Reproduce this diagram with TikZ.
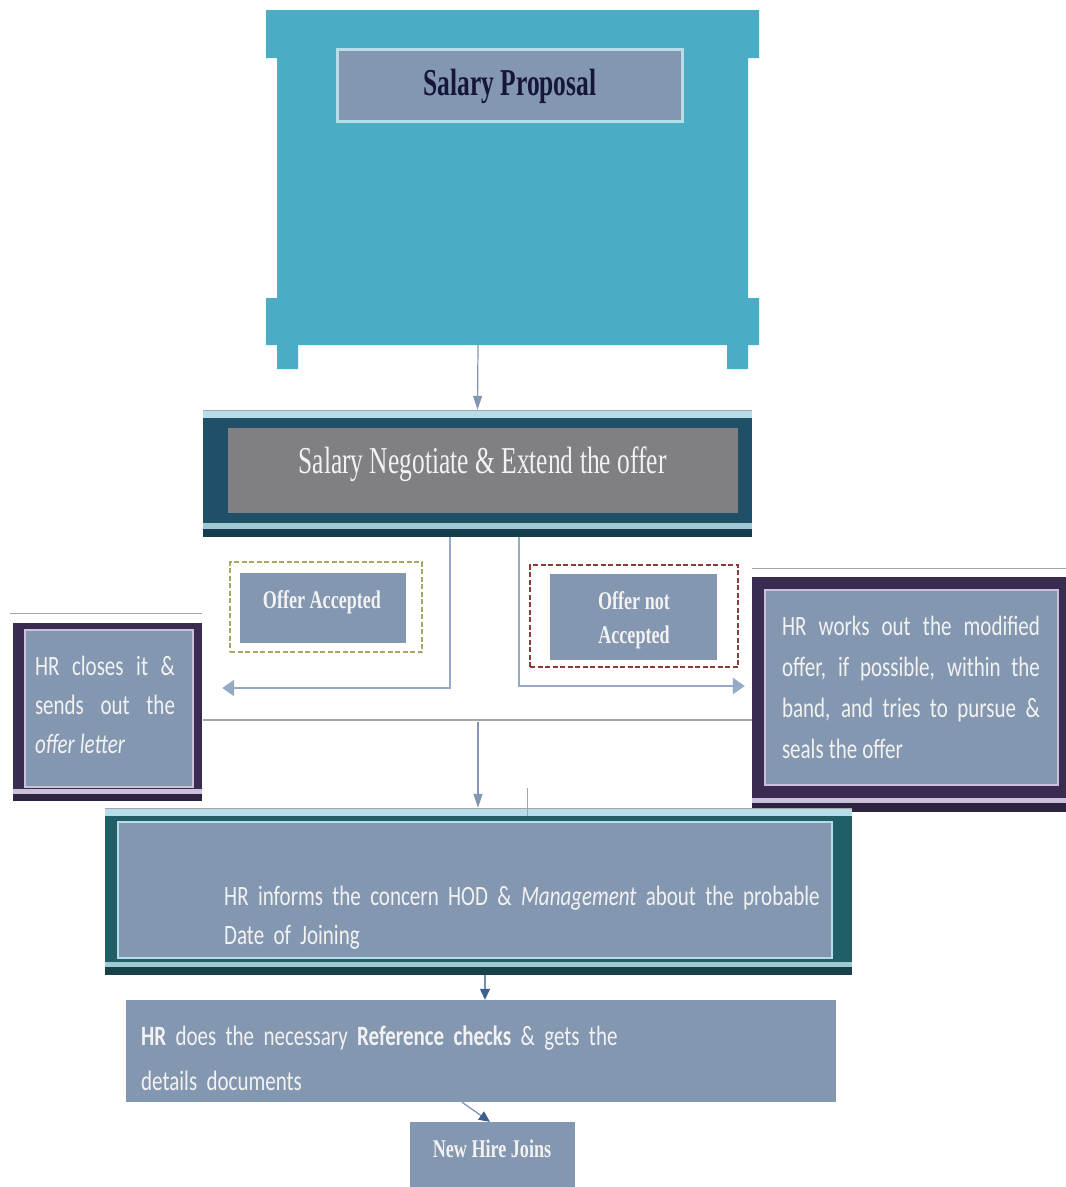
\documentclass[tikz,border=0pt]{standalone}
\usepackage{fontspec}
\usetikzlibrary{arrows.meta}
\newfontfamily\capfont[FakeStretch=0.67]{Liberation Serif}
\newfontfamily\tagfont[FakeStretch=0.71]{Liberation Serif}
\newfontfamily\bodyfont[FakeStretch=0.75]{Carlito}
% body copy: condensed face with tighter word spaces
\newcommand{\bodyset}[2]{\bodyfont\fontsize{#1}{#2}\selectfont\spaceskip=5pt plus 4pt minus 1pt\relax}

\definecolor{aqua}{HTML}{4BACC6}
\definecolor{slate}{HTML}{8497B0}
\definecolor{icecyan}{HTML}{B7DEE8}
\definecolor{deepteal}{HTML}{1F5068}
\definecolor{deepteal2}{HTML}{215E68}
\definecolor{midgrey}{HTML}{7F7F84}
\definecolor{plum}{HTML}{3A2C50}
\definecolor{lavender}{HTML}{CCC1DA}
\definecolor{olive}{HTML}{A8A662}
\definecolor{brick}{HTML}{8B3A3A}
\definecolor{linkblue}{HTML}{95AAC4}
\definecolor{linkgrey}{HTML}{8497B0}
\definecolor{navyarrow}{HTML}{3D5E90}
\definecolor{rulegrey}{HTML}{A6A6A6}
\definecolor{titleink}{HTML}{16163A}
\definecolor{paleink}{HTML}{F2F2F2}

\tikzset{
  panel/.style={fill=slate, inner sep=0pt},
  framebox/.style={inner sep=0pt},
  txt/.style={inner sep=0pt, text=paleink},
  capstyle/.style={txt, text=titleink, font=\capfont\bfseries\fontsize{38}{40}\selectfont},
  negostyle/.style={txt, font=\capfont\fontsize{38}{40}\selectfont},
  tagstyle/.style={txt, font=\tagfont\bfseries\fontsize{25.5}{34}\selectfont},
  bodystyle/.style={txt, font=\bodyset{28}{39}},
  dashbox/.style={inner sep=0pt, line width=2.2pt, dash pattern=on 5pt off 2.5pt},
  linkthin/.style={draw=linkgrey, line width=1.2pt, -{Triangle[length=14pt,width=9pt]}},
  sidelink/.style={draw=linkblue, line width=2.5pt, -{Triangle[length=12pt,width=16pt]}},
  navylink/.style={draw=navyarrow!70!white, line width=1.2pt, -{Triangle[length=11pt,width=10pt,color=navyarrow]}},
  rule/.style={draw=rulegrey, line width=1.5pt}
}

\begin{document}
\begin{tikzpicture}[x=1pt,y=-1pt]
\useasboundingbox[fill=white] (0,0) rectangle (1066,1187);

% ---- Salary proposal: the teal bench shape
\fill[aqua] (266,10) -- (759,10) -- (759,58) -- (748,58) -- (748,298) -- (759,298)
  -- (759,345) -- (748,345) -- (748,369) -- (727,369) -- (727,345) -- (298,345)
  -- (298,369) -- (277,369) -- (277,345) -- (266,345) -- (266,298) -- (277,298)
  -- (277,58) -- (266,58) -- cycle;
\node[panel, draw=icecyan, line width=3pt, minimum width=345pt, minimum height=72pt] (ptitle) at (510,85.5) {};
\node[capstyle, anchor=base] (ptext) at (510,95) {Salary Proposal};
\coordinate (propfoot) at (478,345);

% ---- Negotiation banner
\node[framebox, minimum width=549pt, minimum height=127pt] (negoF) at (477.5,473.5) {};
\fill[icecyan] (203,411) rectangle (752,418);
\draw[rule] (203,410.5) -- (752,410.5);
\fill[deepteal] (203,418) rectangle (752,523);
\fill[icecyan!85!deepteal] (203,523) rectangle (752,529);
\fill[deepteal!75!black] (203,529) rectangle (752,537);
\node[fill=midgrey, inner sep=0pt, minimum width=510pt, minimum height=85pt] (nego) at (483,470) {};
\node[negostyle, anchor=base] (negoT) at (482.5,473) {Salary Negotiate \& Extend the offer};

\draw[linkthin] (propfoot) -- (negoF.north);

% ---- Offer accepted / not accepted
\node[dashbox, draw=olive, minimum width=192pt, minimum height=90pt] (accF) at (326,607) {};
\node[panel, minimum width=166pt, minimum height=70pt] (acc) at (323,608) {};
\node[tagstyle, anchor=base] (accT) at (322,608) {Offer Accepted};

\node[dashbox, draw=brick, minimum width=208pt, minimum height=102pt] (rejF) at (634,616) {};
\node[panel, minimum width=167pt, minimum height=86pt] (rej) at (633.5,617) {};
\node[tagstyle, align=center] (rejT) at (634,620) {Offer not\\Accepted};

% ---- HR closes it
\fill[white] (10,613) rectangle (202,623);
\draw[rule] (10,613.5) -- (202,613.5);
\node[framebox, fill=plum, minimum width=189pt, minimum height=178pt] (closeF) at (107.5,712) {};
\fill[lavender] (13,789) rectangle (202,794);
\fill[plum!80!black] (13,794) rectangle (202,801);
\node[panel, draw=lavender, line width=2pt, minimum width=168pt, minimum height=157pt] (close) at (109,708.5) {};
\node[bodystyle, text width=140pt, align=justify] (closeT) at (105,705)
  {HR closes it \&\linebreak sends out the\linebreak \textit{offer letter}};

% ---- HR works out the modified offer
\draw[rule] (752,568.5) -- (1066,568.5);
\node[framebox, fill=plum, minimum width=314pt, minimum height=235pt] (worksF) at (909,694.5) {};
\fill[lavender] (752,798) rectangle (1066,803);
\fill[plum!80!black] (752,803) rectangle (1066,812);
\node[panel, draw=lavender, line width=2pt, minimum width=293pt, minimum height=195pt] (works) at (911.5,687.5) {};
\node[bodystyle, text width=258pt, align=justify, font=\bodyset{28}{41}] (worksT) at (911,687.5)
  {HR works out the modified\linebreak offer, if possible, within the\linebreak band, and tries to pursue \&\linebreak seals the offer};

% ---- branch connectors
\coordinate (accY) at (0,688);
\coordinate (rejY) at (0,686);
\draw[sidelink, shorten >=20pt] ([xshift=-27.5pt]negoF.south) |- (closeF.east |- accY);
\draw[sidelink, shorten >=7pt] ([xshift=41.5pt]negoF.south) |- (worksF.west |- rejY);

\coordinate (barL) at (203,720);
\coordinate (barR) at (752,720);
\draw[rule] (barL) -- (barR);
\coordinate (barmid) at (478,722);

% ---- HR informs HOD & Management
\node[framebox, minimum width=747pt, minimum height=167pt] (infF) at (478.5,891.5) {};
\fill[icecyan] (105,809) rectangle (852,816);
\draw[rule] (105,808.5) -- (852,808.5);
\fill[deepteal2] (105,816) rectangle (852,962);
\fill[icecyan!85!deepteal2] (105,962) rectangle (852,967);
\fill[deepteal2!70!black] (105,967) rectangle (852,975);
\node[panel, draw=icecyan, line width=2pt, minimum width=714pt, minimum height=136pt] (inf) at (475,890) {};
\node[bodystyle, anchor=west, text width=700pt, align=left] (infT) at (224,918)
  {HR informs the concern HOD \& \textit{Management} about the probable\\Date of Joining};

\draw[linkthin] (barmid) -- (infF.north -| barmid);
\draw[draw=rulegrey, line width=1pt] (527,788) -- (527,816);

% ---- Reference checks
\node[panel, minimum width=710pt, minimum height=102pt] (ref) at (481,1051) {};
\node[bodystyle, anchor=west, text width=690pt, align=left, font=\bodyset{28}{45}] (refT) at (141,1058)
  {\textbf{HR} does the necessary \textbf{Reference checks} \& gets the\\details documents};
\draw[navylink] ([xshift=6.5pt]infF.south) -- ([xshift=4pt]ref.north);

% ---- New hire joins
\node[panel, minimum width=165pt, minimum height=66pt] (hire) at (492.5,1155) {};
\node[tagstyle, anchor=base] (hireT) at (492,1157) {New Hire Joins};
\draw[navylink] ([xshift=-19pt]ref.south) -- ([xshift=-2.5pt]hire.north);
\end{tikzpicture}
\end{document}
